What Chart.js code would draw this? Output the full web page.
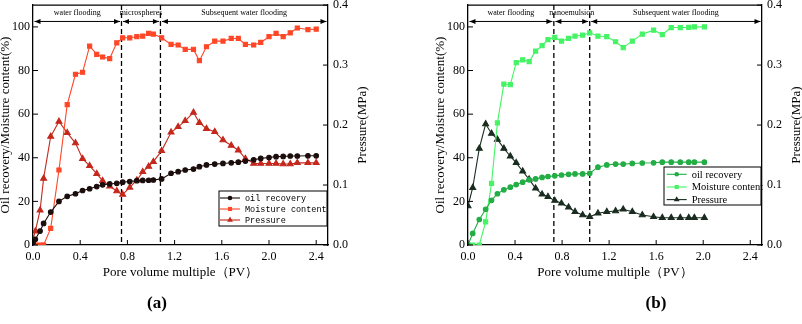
<!DOCTYPE html>
<html>
<head>
<meta charset="utf-8">
<script src="https://cdn.jsdelivr.net/npm/chart.js@4.4.0/dist/chart.umd.min.js"></script>
<style>
  html, body { margin: 0; padding: 0; background: #fff; }
  body { width: 802px; height: 324px; position: relative; overflow: hidden; }
  .panel { position: absolute; top: 0; height: 324px; }
  .tag { position: absolute; top: 293px; width: 100px; text-align: center;
         font: bold 17px "Liberation Serif", "Times New Roman", serif; }
</style>
</head>
<body>
<div class="panel" style="left:0;width:400px"><canvas id="chartA"></canvas></div>
<div class="panel" style="left:435px;width:367px"><canvas id="chartB"></canvas></div>
<div class="tag" style="left:107px">(a)</div>
<div class="tag" style="left:606px">(b)</div>
<script>
// ---- data ----
var seriesNames = ["oil recovery", "Moisture content", "Pressure"];

// panel (a): microspheres
var pvA = [0, 0.02, 0.06, 0.09, 0.15, 0.22, 0.29, 0.36, 0.42, 0.48, 0.54, 0.59, 0.65, 0.71,
           0.76, 0.82, 0.88, 0.93, 0.98, 1.02, 1.09, 1.17, 1.23, 1.29, 1.36, 1.41, 1.47, 1.54,
           1.61, 1.68, 1.74, 1.80, 1.87, 1.93, 2.00, 2.06, 2.12, 2.18, 2.24, 2.33, 2.40];
var recoveryA = [1, 2.6, 6.4, 9.9, 15.1, 20, 22.3, 23.5, 25, 25.8, 26.8, 27.6, 28, 28.3,
                 28.8, 29.1, 29.5, 29.6, 29.7, 29.8, 30.3, 32.9, 33.6, 34.4, 34.8, 35.9, 36.7, 37.1,
                 37.4, 37.7, 38, 38.5, 39.1, 39.7, 40.1, 40.5, 40.6, 40.8, 40.8, 40.9, 40.9];
var moistureA = [0, 0, 0, 0, 7.6, 34.4, 64.4, 78.3, 79.2, 91.2, 87.4, 86.2, 85.5, 92.7,
                 95, 95, 95.5, 95.8, 97, 96.7, 95, 92, 91.7, 89.7, 89.7, 84.5, 90.9, 93.5,
                 93.5, 94.7, 94.7, 92, 91.7, 92.9, 95.5, 97, 95.5, 97.3, 99.5, 98.8, 99];
var pressureA = [0.01, 0.023, 0.058, 0.111, 0.181, 0.206, 0.187, 0.17, 0.144, 0.132, 0.119, 0.107, 0.098, 0.09,
                 0.084, 0.096, 0.108, 0.122, 0.131, 0.139, 0.157, 0.188, 0.197, 0.207, 0.221, 0.204, 0.194, 0.189,
                 0.175, 0.166, 0.158, 0.144, 0.136, 0.136, 0.136, 0.136, 0.135, 0.135, 0.137, 0.137, 0.137];
var stagesA = ["water flooding", "microspheres", "Subsequent water flooding"];
var stageBoundsA = [0.75, 1.08];

// panel (b): nanoemulsion
var pvB = [0, 0.04, 0.096, 0.15, 0.2, 0.25, 0.305, 0.36, 0.41, 0.465, 0.52, 0.575, 0.63, 0.68,
           0.738, 0.795, 0.855, 0.91, 0.975, 1.035, 1.105, 1.18, 1.255, 1.32, 1.397, 1.482, 1.578,
           1.652, 1.728, 1.805, 1.877, 1.925, 2.01];
var recoveryB = [0, 5.3, 11.7, 16.4, 20.5, 23.5, 25.3, 26.5, 27.7, 28.8, 29.9, 30.3, 31, 31.4,
                 31.7, 32.1, 32.4, 32.6, 32.6, 32.9, 35.7, 36.7, 37.1, 37.1, 37.4, 37.6, 37.7,
                 38, 38, 38, 38, 38, 38];
var moistureB = [0, 0, 0, 10.6, 28.3, 56, 73.8, 73.5, 83.6, 84.9, 84.1, 88.9, 91.4, 94.2,
                 95.2, 93.5, 94.7, 95.8, 96.2, 97.3, 95.8, 95.5, 93.2, 90.5, 93.5, 96.7, 98.5,
                 96.5, 99.7, 99.7, 99.8, 100, 100];
var pressureB = [0.065, 0.0955, 0.161, 0.2017, 0.186, 0.176, 0.161, 0.148, 0.137, 0.123, 0.1095, 0.0945, 0.0845, 0.0805,
                 0.074, 0.0695, 0.063, 0.0555, 0.05, 0.047, 0.053, 0.0555, 0.0567, 0.0595, 0.0555, 0.05, 0.047,
                 0.0455, 0.0455, 0.0455, 0.0455, 0.0455, 0.0455];
var stagesB = ["water flooding", "nanoemulsion", "Subsequent water flooding"];
var stageBoundsB = [0.73, 1.035];

// ticks
var xTicks = [0, 0.4, 0.8, 1.2, 1.6, 2.0, 2.4];
var leftTicks = [0, 20, 40, 60, 80, 100];
var rightTicks = [0, 0.1, 0.2, 0.3, 0.4];

var SERIF = '"Liberation Serif", "Times New Roman", serif';

function pairs(xs, ys) {
    return xs.map(function (x, i) { return { x: x, y: ys[i] }; });
}

function marker(ctx, style, x, y, r) {
    ctx.beginPath();
    if (style === "circle") {
        ctx.arc(x, y, r, 0, Math.PI * 2);
    } else if (style === "rect") {
        var s = r * Math.SQRT1_2;
        ctx.rect(x - s, y - s, 2 * s, 2 * s);
    } else {
        ctx.moveTo(x, y - r);
        ctx.lineTo(x + r * 0.866, y + r * 0.5);
        ctx.lineTo(x - r * 0.866, y + r * 0.5);
        ctx.closePath();
    }
    ctx.fill();
}

function seg(ctx, x1, y1, x2, y2) {
    ctx.beginPath(); ctx.moveTo(x1, y1); ctx.lineTo(x2, y2); ctx.stroke();
}

function arrowHead(ctx, x, y, dir) {
    ctx.beginPath();
    ctx.moveTo(x, y);
    ctx.lineTo(x - dir * 6, y - 2.5);
    ctx.lineTo(x - dir * 6, y + 2.5);
    ctx.closePath();
    ctx.fill();
}

// frame, inward ticks, stage arrows, legend and axis titles
var panelDecor = {
    id: "panelDecor",
    beforeDatasetsDraw: function (chart, args, o) {
        var ctx = chart.ctx, a = chart.chartArea, xs = chart.scales.x;
        ctx.save();
        ctx.strokeStyle = "#000";
        ctx.lineWidth = 1.3;
        ctx.setLineDash([5, 3]);
        o.bounds.forEach(function (b) {
            var px = xs.getPixelForValue(b);
            seg(ctx, px, a.top, px, a.bottom);
        });
        ctx.restore();
    },
    afterDraw: function (chart, args, o) {
        var ctx = chart.ctx, a = chart.chartArea;
        var xs = chart.scales.x, ys = chart.scales.y, ys1 = chart.scales.y1;
        ctx.save();
        ctx.strokeStyle = "#000";
        ctx.fillStyle = "#000";
        ctx.lineWidth = 1.3;
        seg(ctx, a.left, a.top, a.right, a.top);

        ctx.lineWidth = 1;
        xTicks.forEach(function (v) {
            var px = xs.getPixelForValue(v);
            seg(ctx, px, a.bottom, px, a.bottom - 5);
        });
        leftTicks.forEach(function (v) {
            var py = ys.getPixelForValue(v);
            seg(ctx, a.left, py, a.left + 5, py);
        });
        rightTicks.forEach(function (v) {
            var py = ys1.getPixelForValue(v);
            seg(ctx, a.right, py, a.right - 5, py);
        });

        // stage arrows across the top
        var edges = [xs.min].concat(o.bounds).concat([xs.max]);
        var ay = ys.getPixelForValue(102.5);
        var ty = ys.getPixelForValue(106.3);
        ctx.font = "8px " + SERIF;
        ctx.textAlign = "center";
        ctx.textBaseline = "middle";
        for (var i = 0; i < o.stages.length; i++) {
            var x1 = xs.getPixelForValue(edges[i]) + 1.5;
            var x2 = xs.getPixelForValue(edges[i + 1]) - 1.5;
            seg(ctx, x1, ay, x2, ay);
            arrowHead(ctx, x1, ay, -1);
            arrowHead(ctx, x2, ay, 1);
            ctx.fillText(o.stages[i], (x1 + x2) / 2, ty);
        }

        // legend box inside the plot
        var L = o.legend;
        var bx = a.right + L.dx, by = a.bottom + L.dy;
        ctx.fillStyle = "#fff";
        ctx.fillRect(bx, by, L.w, L.h);
        ctx.strokeStyle = "#000";
        ctx.lineWidth = 1;
        ctx.strokeRect(bx, by, L.w, L.h);
        ctx.font = L.font;
        ctx.textAlign = "left";
        chart.data.datasets.forEach(function (ds, k) {
            var ry = by + L.rows[k];
            ctx.strokeStyle = ds.borderColor;
            ctx.fillStyle = ds.borderColor;
            ctx.lineWidth = 1.1;
            seg(ctx, bx + L.sample[0], ry, bx + L.sample[1], ry);
            marker(ctx, ds.pointStyle, bx + (L.sample[0] + L.sample[1]) / 2, ry, ds.pointRadius);
            ctx.fillStyle = "#000";
            ctx.fillText(ds.label, bx + L.textX, ry + 0.5);
        });

        // axis titles
        ctx.fillStyle = "#000";
        ctx.font = "13px " + SERIF;
        ctx.textAlign = "center";
        ctx.textBaseline = "middle";
        ctx.fillText("Pore volume multiple（PV）", (a.left + a.right) / 2, a.bottom + 28);
        var cy = (a.top + a.bottom) / 2;
        ctx.save();
        ctx.translate(a.left - 27, cy);
        ctx.rotate(-Math.PI / 2);
        ctx.fillText("Oil recovery/Moisture content(%)", 0, 0);
        ctx.restore();
        ctx.save();
        ctx.translate(a.right + 35, cy);
        ctx.rotate(-Math.PI / 2);
        ctx.fillText("Pressure(MPa)", 0, 0);
        ctx.restore();
        ctx.restore();
    }
};

function tickFont() { return { family: SERIF, size: 12 }; }

function buildChart(id, pv, rec, moist, pres, colors, extra) {
    var ctx = document.getElementById(id);
    return new Chart(ctx, {
        type: "line",
        data: {
            datasets: [
                { label: seriesNames[0], data: pairs(pv, rec), yAxisID: "y",
                  borderColor: colors[0], backgroundColor: colors[0],
                  pointStyle: "circle", pointRadius: 2.3, borderWidth: 1.1 },
                { label: seriesNames[1], data: pairs(pv, moist), yAxisID: "y",
                  borderColor: colors[1], backgroundColor: colors[1],
                  pointStyle: "rect", pointRadius: 2.9, borderWidth: 1.1 },
                { label: seriesNames[2], data: pairs(pv, pres), yAxisID: "y1",
                  borderColor: colors[2], backgroundColor: colors[2],
                  pointStyle: "triangle", pointRadius: 3.4, borderWidth: 1.1 }
            ]
        },
        options: {
            responsive: true,
            maintainAspectRatio: false,
            animation: false,
            devicePixelRatio: 1,
            layout: { padding: { top: 3, left: 0, right: 0, bottom: 0 } },
            elements: { line: { tension: 0 }, point: { borderWidth: 0.5 } },
            plugins: {
                legend: { display: false },
                tooltip: { enabled: false },
                panelDecor: extra
            },
            scales: {
                x: {
                    type: "linear", position: "bottom", min: 0, max: 2.5,
                    afterBuildTicks: function (s) { s.ticks = xTicks.map(function (v) { return { value: v }; }); },
                    afterFit: function (s) { s.height = 79; s.paddingLeft = 0; s.paddingRight = 0; },
                    grid: { drawOnChartArea: false, drawTicks: false },
                    border: { color: "#000", width: 1.3 },
                    ticks: { color: "#000", font: tickFont(), padding: 5, maxRotation: 0, autoSkip: false,
                             callback: function (v) { return Number(v).toFixed(1); } }
                },
                y: {
                    type: "linear", position: "left", min: 0, max: 110,
                    afterBuildTicks: function (s) { s.ticks = leftTicks.map(function (v) { return { value: v }; }); },
                    afterFit: function (s) { s.width = 33; s.paddingTop = 0; s.paddingBottom = 0; },
                    grid: { drawOnChartArea: false, drawTicks: false },
                    border: { color: "#000", width: 1.3 },
                    ticks: { color: "#000", font: tickFont(), padding: 3,
                             callback: function (v) { return String(v); } }
                },
                y1: {
                    type: "linear", position: "right", min: 0, max: 0.4,
                    afterBuildTicks: function (s) { s.ticks = rightTicks.map(function (v) { return { value: v }; }); },
                    afterFit: function (s) { s.width = extra.rightWidth; s.paddingTop = 0; s.paddingBottom = 0; },
                    grid: { drawOnChartArea: false, drawTicks: false },
                    border: { color: "#000", width: 1.3 },
                    ticks: { color: "#000", font: tickFont(), padding: 5,
                             callback: function (v) { return Number(v).toFixed(1); } }
                }
            }
        },
        plugins: [panelDecor]
    });
}

var chartA = buildChart("chartA", pvA, recoveryA, moistureA, pressureA,
    ["#1c0d0d", "#ff4626", "#c4281c"],
    { stages: stagesA, bounds: stageBoundsA, rightWidth: 72,
      legend: { dx: -109, dy: -54, w: 108, h: 35, rows: [7, 18, 29], sample: [1, 21], textX: 26,
                font: '8.5px "Liberation Mono", monospace' } });

var chartB = buildChart("chartB", pvB, recoveryB, moistureB, pressureB,
    ["#22ae44", "#44f464", "#1a2c20"],
    { stages: stagesB, bounds: stageBoundsB, rightWidth: 40,
      legend: { dx: -98, dy: -78, w: 97, h: 38, rows: [7.3, 20, 32.6], sample: [2.7, 22.7], textX: 27.7,
                font: "10.5px " + SERIF } });
</script>
</body>
</html>
